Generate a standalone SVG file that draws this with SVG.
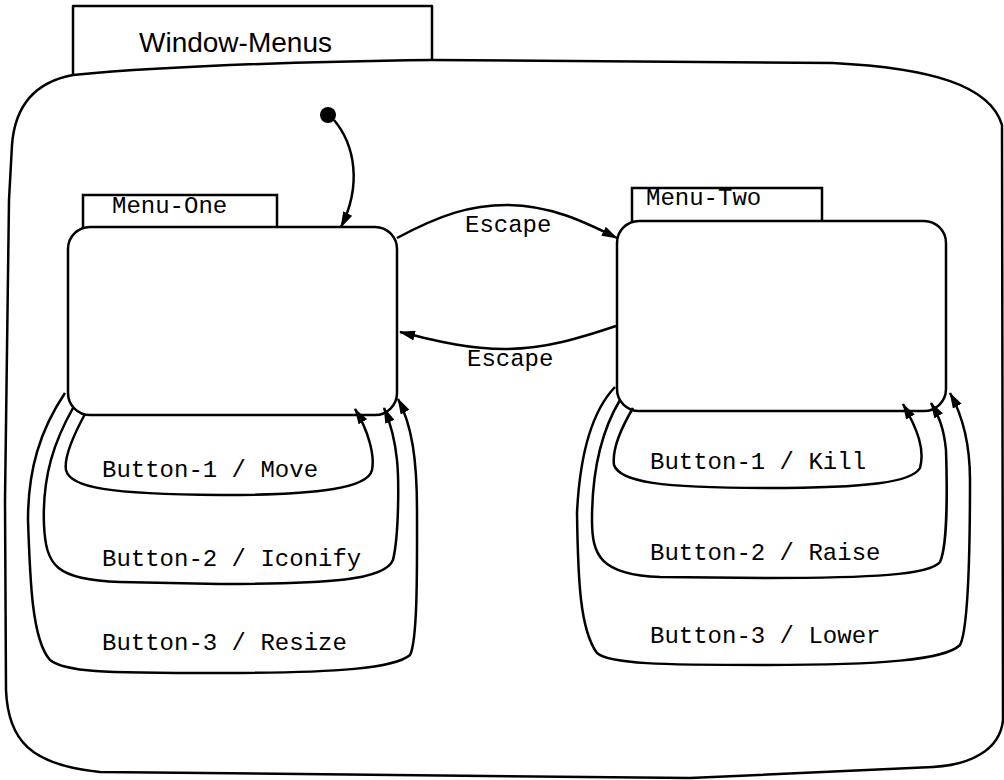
<svg xmlns="http://www.w3.org/2000/svg" width="1004" height="780" viewBox="0 0 1004 780">
<defs>
<marker id="ah" viewBox="0 0 16 10" refX="15" refY="5" markerWidth="16" markerHeight="10" markerUnits="userSpaceOnUse" orient="auto">
<path d="M0 0 L16 5 L0 10 Z" fill="#000"/>
</marker>
<style>
.ln{fill:none;stroke:#000;stroke-width:2.5;stroke-linejoin:round;stroke-linecap:round}
.st{fill:#fff;stroke:#000;stroke-width:2.5}
.arr{fill:none;stroke:#000;stroke-width:2.5;marker-end:url(#ah)}
.mono{font-family:"Liberation Mono","Courier New",monospace;font-size:24px;fill:#000}
.sans{font-family:"Liberation Sans",Arial,sans-serif;font-size:28px;fill:#000}
</style>
</defs>
<rect width="1004" height="780" fill="#fff"/>
<g id="window-menus">
<path class="ln" d="M73 75 L73 6 L432 6 L432 60"/>
<text x="139" y="52" class="sans">Window-Menus</text>
<path class="st" d="M73 75 Q200 63 432 60 L833 63 C930 68 990 85 1002 125 L1003 720 C1000 750 970 765 933 767 L690 778 L100 772 C30 765 8 740 6 690 L5 500 L9 200 L12 145 C15 105 35 82 73 75 Z"/>
</g>
<g id="initial">
<circle cx="328" cy="115" r="8" fill="#000"/>
</g>
<g id="menu-one">
<rect x="83" y="195" width="194" height="40" class="st"/>
<text x="112" y="213" class="mono">Menu-One</text>
<rect x="68" y="227" width="329" height="188" rx="22" ry="22" class="st"/>
</g>
<g id="menu-two">
<rect x="632" y="188" width="190" height="40" class="st"/>
<text x="646" y="205" class="mono">Menu-Two</text>
<rect x="617" y="221" width="329" height="190" rx="22" ry="22" class="st"/>
</g>
<g id="connectors">
<path class="arr" d="M334 120 C355 145 362 185 341 227"/>
<path class="arr" d="M397 238 C440 215 470 205 507 205 C550 205 585 222 617 238"/>
<path class="arr" d="M616 326 C580 338 545 349 505 349 C470 349 440 342 400 332"/>
<path class="arr" d="M85 414 C72 438 64 458 66 470 C70 488 110 494 220 495 C320 495 368 488 372 470 C375 455 368 430 355 409"/>
<path class="arr" d="M73 408 C55 440 42 475 44 525 C46 565 55 580 120 582 L220 584 C330 584 385 580 393 560 C399 535 399 480 397 460 C395 440 390 422 384 408"/>
<path class="arr" d="M65 393 C40 430 28 470 28 520 C30 580 32 640 50 660 C65 672 100 673 220 673 C340 673 395 668 410 655 C418 640 417 560 417 510 C417 460 412 425 398 399"/>
<path class="arr" d="M633 408 C620 430 612 450 614 465 C620 482 660 488 767 488 C870 488 912 482 920 468 C925 450 918 430 903 404"/>
<path class="arr" d="M620 400 C602 430 592 470 592 520 C592 555 600 575 660 577 L767 578 C870 578 930 575 940 562 C948 545 947 480 946 450 C944 430 940 418 931 403"/>
<path class="arr" d="M615 387 C593 410 580 450 577 513 C578 580 580 630 597 653 C610 664 660 665 767 665 C880 665 945 660 960 645 C968 630 970 560 970 480 C970 450 965 420 950 393"/>
</g>
<g id="labels">
<text x="465" y="232" class="mono">Escape</text>
<text x="467" y="366" class="mono">Escape</text>
<text x="102" y="477" class="mono">Button-1 / Move</text>
<text x="102" y="566" class="mono">Button-2 / Iconify</text>
<text x="102" y="650" class="mono">Button-3 / Resize</text>
<text x="650" y="469" class="mono">Button-1 / Kill</text>
<text x="650" y="560" class="mono">Button-2 / Raise</text>
<text x="650" y="643" class="mono">Button-3 / Lower</text>
</g>
</svg>
